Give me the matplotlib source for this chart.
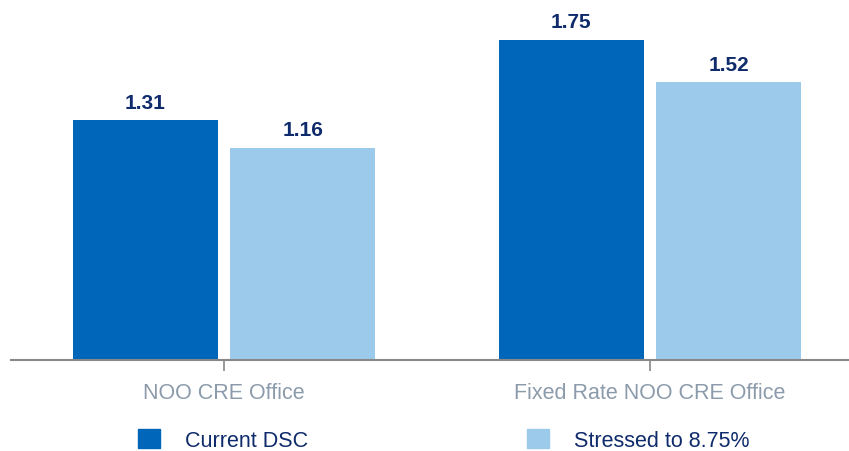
import matplotlib.pyplot as plt
import numpy as np
from matplotlib.patches import Patch

plt.rcParams['font.family'] = ['Liberation Sans', 'DejaVu Sans']

categories = ["NOO CRE Office", "Fixed Rate NOO CRE Office"]
series_names = ["Current DSC", "Stressed to 8.75%"]
current_dsc = [1.31, 1.75]
stressed = [1.16, 1.52]

dark_blue = "#0066b9"
light_blue = "#9bcaea"
navy = "#0f2b6b"
gray = "#8c9bab"

fig = plt.figure(figsize=(8.49, 4.52), dpi=100)
ax = fig.add_axes([11 / 849, 1 - 361 / 452, 852 / 849, 361 / 452])

x = np.arange(len(categories))
w = 0.34
off = 0.185
b1 = ax.bar(x - off, current_dsc, w, color=dark_blue)
b2 = ax.bar(x + off, stressed, w, color=light_blue)

for bars, vals in ((b1, current_dsc), (b2, stressed)):
    for rect, v in zip(bars, vals):
        ax.annotate(f"{v:.2f}", (rect.get_x() + rect.get_width() / 2, v),
                    xytext=(0, 6), textcoords="offset points",
                    ha="center", va="bottom", fontsize=15, fontweight="bold",
                    color=navy)

ax.set_xlim(-0.5, 1.5)
ax.set_ylim(0, 361 / 183)
ax.set_xticks(x)
ax.set_xticklabels(categories, fontsize=15.5, color=gray)
ax.tick_params(axis="x", length=8, width=1.2, color="#888888", pad=8)
ax.set_yticks([])
for s in ("top", "right", "left"):
    ax.spines[s].set_visible(False)
ax.spines["bottom"].set_color("#888888")
ax.spines["bottom"].set_linewidth(1.5)

handles = [Patch(color=dark_blue), Patch(color=light_blue)]
fig.legend(handles, series_names, loc="center left",
           bbox_to_anchor=(119 / 849, 1 - 441 / 452), ncol=2, frameon=False,
           fontsize=15.5, handlelength=1.0, handleheight=1.0,
           handletextpad=1.15, columnspacing=10.2, labelcolor=navy)

fig.savefig("out.png", dpi=100)
